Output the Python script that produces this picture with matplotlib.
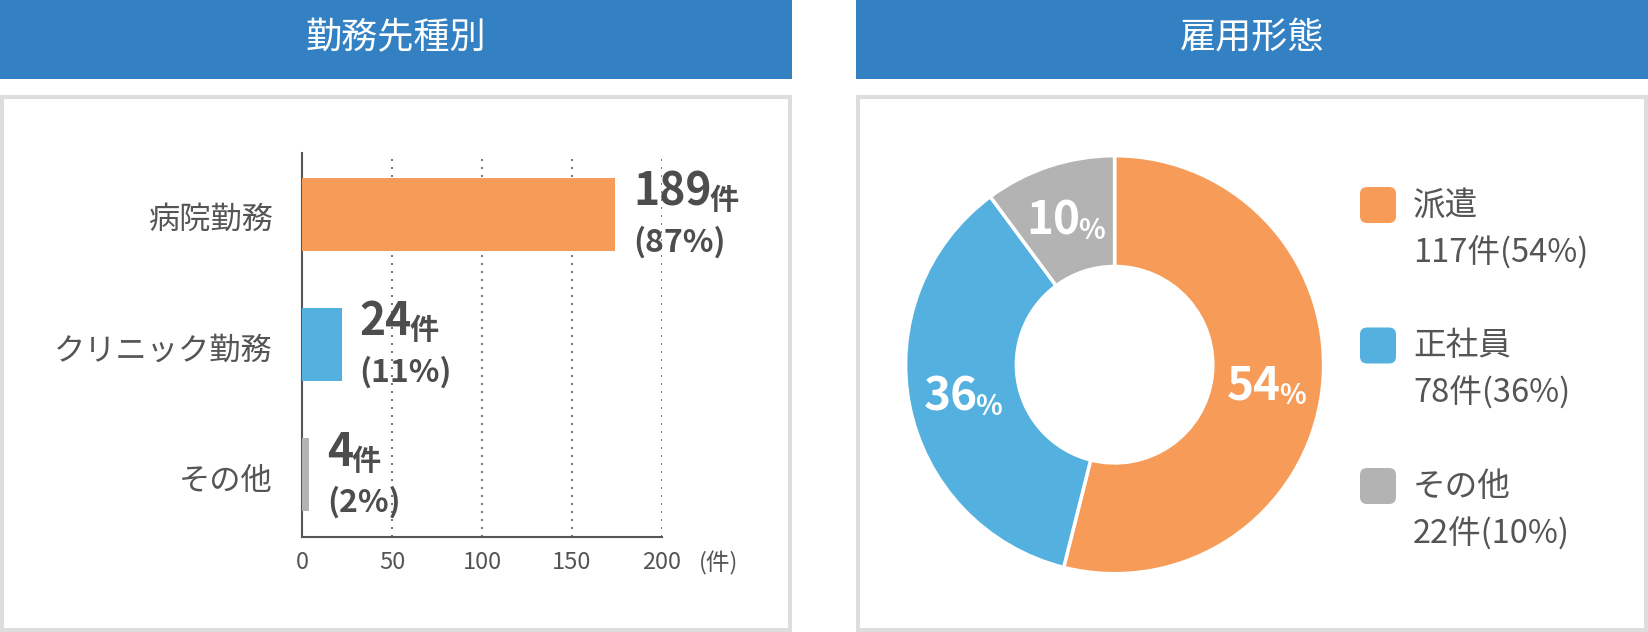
import matplotlib
matplotlib.use('Agg')
import matplotlib.pyplot as plt
from matplotlib.patches import Rectangle, FancyBboxPatch
import numpy as np

plt.rcParams['font.family'] = ['Noto Sans CJK JP', 'DejaVu Sans']

# 勤務先種別 (left panel)
work_cats = ['病院勤務', 'クリニック勤務', 'その他']
work_counts = [189, 24, 4]
work_pcts = [87, 11, 2]
work_bar_len = [174, 22, 4]   # bar lengths as drawn in the original chart
work_colors = ['#F69C58', '#54B1DF', '#B3B3B3']
x_ticks = [0, 50, 100, 150, 200]

# 雇用形態 (right panel)
emp_cats = ['派遣', '正社員', 'その他']
emp_counts = [117, 78, 22]
emp_pcts = [54, 36, 10]
emp_colors = ['#F69C58', '#54B1DF', '#B3B3B3']

W, H = 1648, 632
BLUE = '#3380C3'
TXT = '#555555'
DARK = '#4D4D4D'
FRAME = '#DDDDDD'

fig = plt.figure(figsize=(W / 100, H / 100), dpi=100)


def box(l, t, r, b):
    # pixel box -> figure fraction
    return [l / W, 1 - b / H, (r - l) / W, (b - t) / H]


# background: headers and framed panels
bg = fig.add_axes([0, 0, 1, 1])
bg.set_xlim(0, W)
bg.set_ylim(H, 0)
bg.axis('off')
bg.set_zorder(0)
for l, r, title in [(0, 792, '勤務先種別'), (856, 1648, '雇用形態')]:
    bg.add_patch(Rectangle((l, 0), r - l, 79, color=BLUE, lw=0))
    bg.text((l + r) / 2, 38, title, color='white', fontsize=26, ha='center', va='center')
    bg.add_patch(Rectangle((l + 2, 97), r - l - 4, H - 99, fc='white', ec=FRAME, lw=2.9))

# bar chart
ax = fig.add_axes(box(302, 153, 662, 537))
ax.set_zorder(1)
ax.set_facecolor('none')
ypos = np.arange(len(work_cats))
ax.barh(ypos, work_bar_len, height=0.56, color=work_colors, zorder=3)
ax.set_xlim(0, 200)
ax.set_ylim(2.48, -0.47)
ax.set_xticks(x_ticks)
ax.set_yticks(ypos, [''] * len(ypos))
ax.tick_params(length=0, labelcolor=TXT)
ax.tick_params(axis='x', labelsize=17, pad=10)
for s in ['top', 'right']:
    ax.spines[s].set_visible(False)
for s in ['left', 'bottom']:
    ax.spines[s].set_color('#555555')
    ax.spines[s].set_linewidth(1.5)
ax.grid(axis='x', color='#777777', linestyle=(0, (1, 3)), lw=1.44, zorder=0)
ax.grid(axis='y', visible=False)
ax.set_axisbelow(True)
ax.annotate('(件)', xy=(200, 0), xycoords=('data', 'axes fraction'),
            xytext=(37, -26), textcoords='offset pixels', ha='left', va='center',
            fontsize=17, color=TXT)

# category labels, slightly below the bar centres as in the original
for i in ypos:
    ax.annotate(work_cats[i], xy=(0, i), xycoords=('axes fraction', 'data'),
                xytext=(-29, -6), textcoords='offset pixels', ha='right', va='center',
                fontsize=22.5, color=TXT)

for i in ypos:
    num = ax.annotate(str(work_counts[i]), xy=(work_bar_len[i], i), xytext=(18, 9),
                      textcoords='offset pixels', ha='left', va='baseline',
                      fontsize=32, fontweight='bold', color=DARK)
    ax.annotate('件', xy=(1, 0), xycoords=num, xytext=(-2, 0), textcoords='offset pixels',
                ha='left', va='bottom', fontsize=21, fontweight='bold', color=DARK)
    ax.annotate(f'({work_pcts[i]}%)', xy=(work_bar_len[i], i), xytext=(18, -37),
                textcoords='offset pixels', ha='left', va='baseline',
                fontsize=23, fontweight='bold', color=DARK)

# donut chart
cx, cy, rad = 1114.6, 364.7, 209
pax = fig.add_axes(box(cx - rad, cy - rad, cx + rad, cy + rad))
pax.set_zorder(1)
ring = 0.53
wedges, _ = pax.pie(emp_counts, colors=emp_colors, startangle=90, counterclock=False,
                    radius=1, wedgeprops=dict(width=ring, edgecolor='white', linewidth=2.5))
pax.set_xlim(-1, 1)
pax.set_ylim(-1, 1)

r_mid = 1 - ring / 2
labels = []
for w, p in zip(wedges, emp_pcts):
    ang = np.deg2rad((w.theta1 + w.theta2) / 2)
    num = pax.annotate(str(p), xy=(r_mid * np.cos(ang), r_mid * np.sin(ang)),
                       xytext=(0, -3), textcoords='offset pixels', ha='center', va='center',
                       fontsize=33, fontweight='bold', color='white')
    pc = pax.annotate('%', xy=(1, 0), xycoords=num, xytext=(-2, 0), textcoords='offset pixels',
                      ha='left', va='bottom', fontsize=20, fontweight='bold', color='white')
    labels.append((num, pc))

# legend
for i, (c, lab, n, p) in enumerate(zip(emp_colors, emp_cats, emp_counts, emp_pcts)):
    y0 = 205 + i * 140.5
    bg.add_patch(FancyBboxPatch((1360, y0 - 18), 36, 36, boxstyle='round,pad=0,rounding_size=7',
                                fc=c, ec='none'))
    bg.text(1413, y0 + 1, lab, fontsize=23.5, color=TXT, ha='left', va='center')
    bg.text(1413, y0 + 48, f'{n}件({p}%)', fontsize=23.5, color=TXT, ha='left', va='center')

# center the donut percentage labels as a group
fig.canvas.draw()
for num, pc in labels:
    wpc = pc.get_window_extent().width
    num.xyann = (-wpc / 2, -3)

fig.savefig('out.png', dpi=100)
